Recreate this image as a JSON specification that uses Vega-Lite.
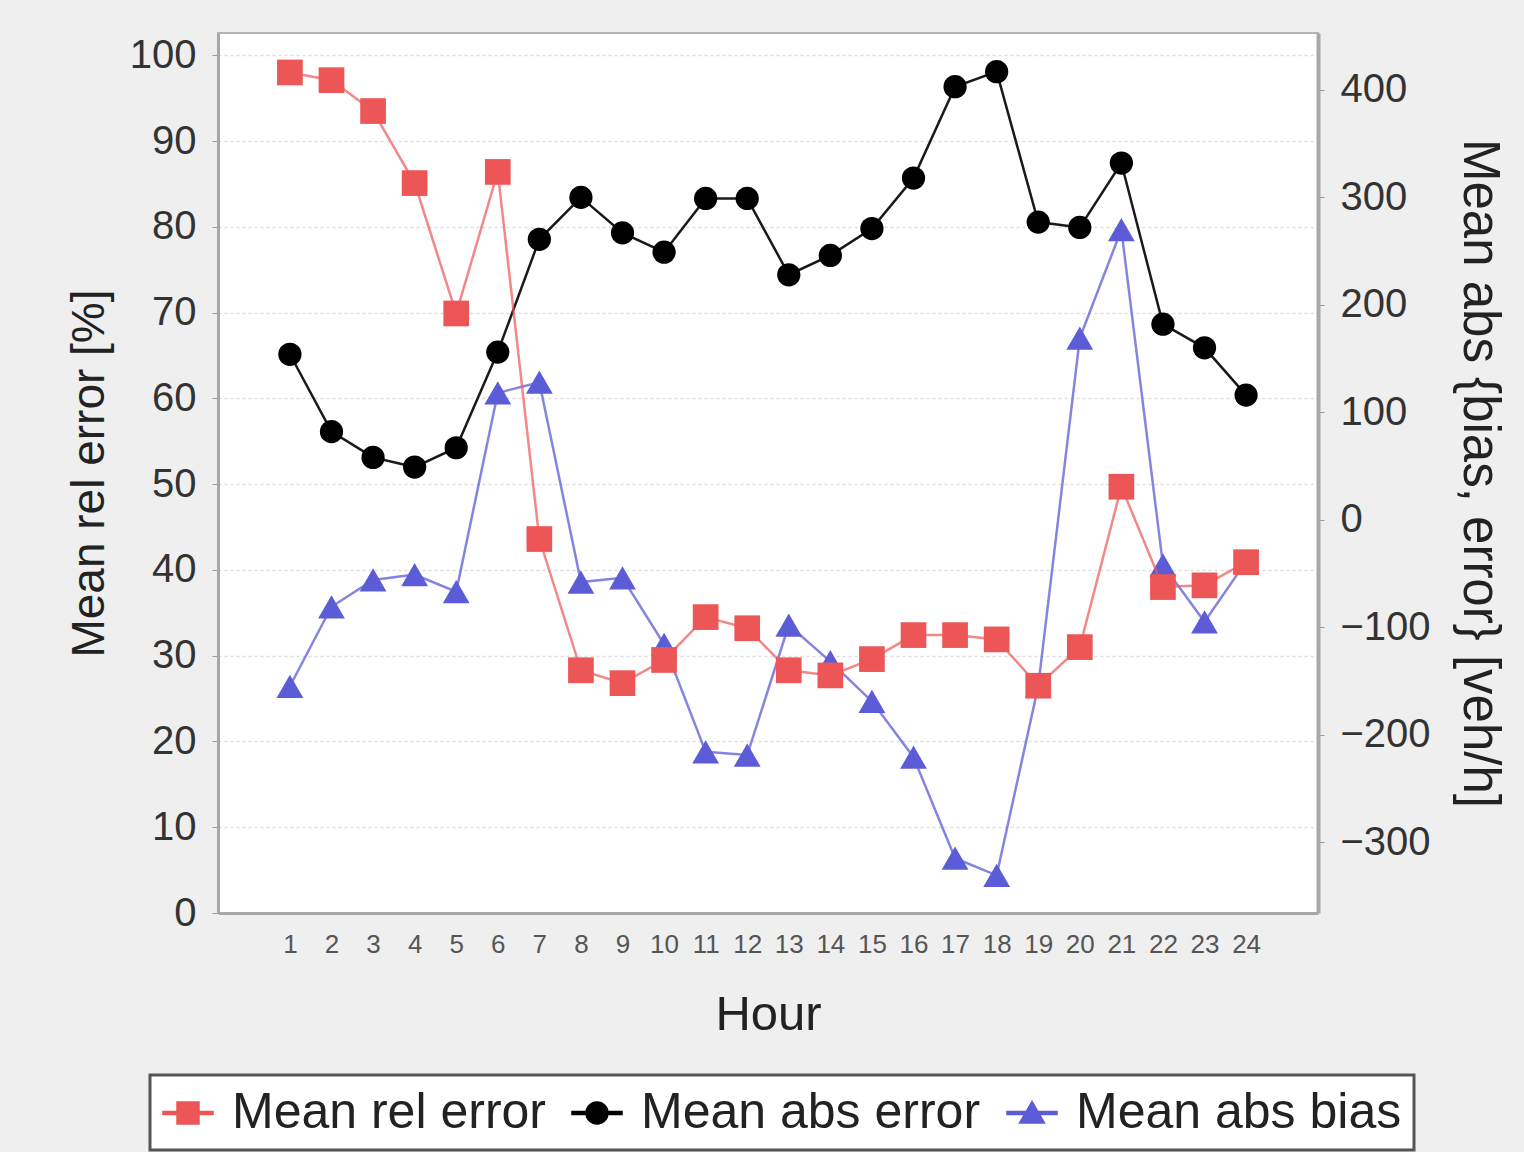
{
  "$schema": "https://vega.github.io/schema/vega-lite/v6.json",
  "width": 1100,
  "height": 880,
  "autosize": {"type": "none"},
  "padding": {"left": 218, "top": 33, "right": 206, "bottom": 239},
  "background": "#efefef",
  "config": {
    "view": {"fill": "white", "stroke": "#b4b4b4", "strokeWidth": 2},
    "axis": {"labelFont": "Liberation Sans", "titleFont": "Liberation Sans", "titleFontWeight": "normal", "titleColor": "#222222", "labelColor": "#333333", "domainColor": "#a8a8a8", "domainWidth": 3, "tickColor": "#999999"},
    "legend": {"strokeWidth": 3}
  },
  "datasets": {
    "rel": [
      {"hour": 1, "series": "Mean rel error", "value": 98.0},
      {"hour": 2, "series": "Mean rel error", "value": 97.1},
      {"hour": 3, "series": "Mean rel error", "value": 93.5},
      {"hour": 4, "series": "Mean rel error", "value": 85.1},
      {"hour": 5, "series": "Mean rel error", "value": 69.9},
      {"hour": 6, "series": "Mean rel error", "value": 86.4},
      {"hour": 7, "series": "Mean rel error", "value": 43.6},
      {"hour": 8, "series": "Mean rel error", "value": 28.3},
      {"hour": 9, "series": "Mean rel error", "value": 26.8},
      {"hour": 10, "series": "Mean rel error", "value": 29.5},
      {"hour": 11, "series": "Mean rel error", "value": 34.5},
      {"hour": 12, "series": "Mean rel error", "value": 33.2},
      {"hour": 13, "series": "Mean rel error", "value": 28.3},
      {"hour": 14, "series": "Mean rel error", "value": 27.7},
      {"hour": 15, "series": "Mean rel error", "value": 29.6},
      {"hour": 16, "series": "Mean rel error", "value": 32.4},
      {"hour": 17, "series": "Mean rel error", "value": 32.4},
      {"hour": 18, "series": "Mean rel error", "value": 31.9},
      {"hour": 19, "series": "Mean rel error", "value": 26.5},
      {"hour": 20, "series": "Mean rel error", "value": 31.0},
      {"hour": 21, "series": "Mean rel error", "value": 49.7},
      {"hour": 22, "series": "Mean rel error", "value": 38.0},
      {"hour": 23, "series": "Mean rel error", "value": 38.2},
      {"hour": 24, "series": "Mean rel error", "value": 40.9}
    ],
    "abs": [
      {"hour": 1, "series": "Mean abs error", "value": 154},
      {"hour": 2, "series": "Mean abs error", "value": 82},
      {"hour": 3, "series": "Mean abs error", "value": 58},
      {"hour": 4, "series": "Mean abs error", "value": 49},
      {"hour": 5, "series": "Mean abs error", "value": 67},
      {"hour": 6, "series": "Mean abs error", "value": 156},
      {"hour": 7, "series": "Mean abs error", "value": 261},
      {"hour": 8, "series": "Mean abs error", "value": 300},
      {"hour": 9, "series": "Mean abs error", "value": 267},
      {"hour": 10, "series": "Mean abs error", "value": 249},
      {"hour": 11, "series": "Mean abs error", "value": 299},
      {"hour": 12, "series": "Mean abs error", "value": 299},
      {"hour": 13, "series": "Mean abs error", "value": 228},
      {"hour": 14, "series": "Mean abs error", "value": 246},
      {"hour": 15, "series": "Mean abs error", "value": 271},
      {"hour": 16, "series": "Mean abs error", "value": 318},
      {"hour": 17, "series": "Mean abs error", "value": 403},
      {"hour": 18, "series": "Mean abs error", "value": 417},
      {"hour": 19, "series": "Mean abs error", "value": 277},
      {"hour": 20, "series": "Mean abs error", "value": 272},
      {"hour": 21, "series": "Mean abs error", "value": 332},
      {"hour": 22, "series": "Mean abs error", "value": 182},
      {"hour": 23, "series": "Mean abs error", "value": 160},
      {"hour": 24, "series": "Mean abs error", "value": 116},
      {"hour": 1, "series": "Mean abs bias", "value": -155},
      {"hour": 2, "series": "Mean abs bias", "value": -81},
      {"hour": 3, "series": "Mean abs bias", "value": -56},
      {"hour": 4, "series": "Mean abs bias", "value": -51},
      {"hour": 5, "series": "Mean abs bias", "value": -67},
      {"hour": 6, "series": "Mean abs bias", "value": 118},
      {"hour": 7, "series": "Mean abs bias", "value": 128},
      {"hour": 8, "series": "Mean abs bias", "value": -58},
      {"hour": 9, "series": "Mean abs bias", "value": -54},
      {"hour": 10, "series": "Mean abs bias", "value": -116},
      {"hour": 11, "series": "Mean abs bias", "value": -216},
      {"hour": 12, "series": "Mean abs bias", "value": -219},
      {"hour": 13, "series": "Mean abs bias", "value": -98},
      {"hour": 14, "series": "Mean abs bias", "value": -132},
      {"hour": 15, "series": "Mean abs bias", "value": -169},
      {"hour": 16, "series": "Mean abs bias", "value": -221},
      {"hour": 17, "series": "Mean abs bias", "value": -315},
      {"hour": 18, "series": "Mean abs bias", "value": -331},
      {"hour": 19, "series": "Mean abs bias", "value": -155},
      {"hour": 20, "series": "Mean abs bias", "value": 169},
      {"hour": 21, "series": "Mean abs bias", "value": 270},
      {"hour": 22, "series": "Mean abs bias", "value": -42},
      {"hour": 23, "series": "Mean abs bias", "value": -95},
      {"hour": 24, "series": "Mean abs bias", "value": -39}
    ]
  },
  "encoding": {
    "x": {
      "field": "hour", "type": "quantitative",
      "scale": {"domain": [-0.73, 25.73], "nice": false, "zero": false},
      "axis": {"values": [1,2,3,4,5,6,7,8,9,10,11,12,13,14,15,16,17,18,19,20,21,22,23,24], "ticks": false, "tickSize": 0, "grid": false, "labelFontSize": 26, "labelPadding": 18, "labelColor": "#555555", "labelFlush": false, "labelOverlap": false, "title": "Hour", "titleFontSize": 49, "titlePadding": 33}
    },
    "color": {
      "field": "series", "type": "nominal",
      "scale": {"domain": ["Mean rel error", "Mean abs error", "Mean abs bias"], "range": ["#ec5656", "#000000", "#5c5cd6"]},
      "legend": {
        "title": null, "orient": "none", "legendX": -68, "legendY": 1042, "direction": "horizontal", "columns": 3,
        "symbolSize": 2500, "symbolOpacity": 1, "labelFont": "Liberation Sans", "labelFontSize": 50, "labelColor": "#222222", "labelLimit": 0,
        "labelOffset": 18, "columnPadding": 23, "padding": 12, "strokeColor": "#555555", "fillColor": "white"
      }
    }
  },
  "layer": [
    {
      "data": {"name": "abs"},
      "encoding": {
        "y": {
          "field": "value", "type": "quantitative",
          "scale": {"domain": [-366, 453], "nice": false, "zero": false},
          "axis": {"orient": "right", "values": [-300,-200,-100,0,100,200,300,400], "grid": false, "tickSize": 6, "labelFontSize": 40, "labelPadding": 16, "title": "Mean abs {bias, error} [veh/h]", "titleFontSize": 51, "titlePadding": 22, "domainWidth": 4}
        }
      },
      "layer": [
        {
          "transform": [{"filter": "datum.series === 'Mean abs error'"}],
          "mark": {"type": "line", "strokeWidth": 2.5, "opacity": 0.9}
        },
        {
          "transform": [{"filter": "datum.series === 'Mean abs bias'"}],
          "mark": {"type": "line", "strokeWidth": 2.5, "opacity": 0.75}
        },
        {
          "transform": [{"filter": "datum.series === 'Mean abs error'"}],
          "mark": {"type": "point", "filled": true, "opacity": 1, "size": 540, "shape": "circle"}
        },
        {
          "transform": [{"filter": "datum.series === 'Mean abs bias'"}],
          "mark": {"type": "point", "filled": true, "opacity": 1, "size": 720, "shape": "triangle-up"}
        }
      ]
    },
    {
      "data": {"name": "rel"},
      "encoding": {
        "y": {
          "field": "value", "type": "quantitative",
          "scale": {"domain": [0, 102.6], "nice": false, "zero": false},
          "axis": {"orient": "left", "values": [0,10,20,30,40,50,60,70,80,90,100], "grid": true, "gridColor": "#dedede", "gridDash": [3, 3], "gridWidth": 1.5, "tickSize": 6, "labelFontSize": 40, "labelPadding": 16, "title": "Mean rel error [%]", "titleFontSize": 46, "titlePadding": 16}
        }
      },
      "layer": [
        {
          "mark": {"type": "line", "strokeWidth": 2.5, "opacity": 0.7}
        },
        {
          "mark": {"type": "point", "filled": true, "opacity": 1, "size": 660, "shape": "square"}
        },
        {
          "transform": [{"filter": "false"}],
          "mark": {"type": "point", "filled": true, "opacity": 1},
          "encoding": {
            "shape": {
              "field": "series", "type": "nominal",
              "scale": {"domain": ["Mean rel error", "Mean abs error", "Mean abs bias"], "range": [
                "M-1,-0.06H1V0.06H-1ZM-0.44,-0.44H0.44V0.44H-0.44Z",
                "M-1,-0.06H1V0.06H-1ZM0.44,0A0.44,0.44,0,1,1,-0.44,0A0.44,0.44,0,1,1,0.44,0Z",
                "M-1,-0.06H1V0.06H-1ZM0,-0.46L0.5,0.4H-0.5Z"
              ]},
              "legend": {
                "title": null, "orient": "none", "legendX": -68, "legendY": 1042, "direction": "horizontal", "columns": 3,
                "symbolSize": 2500, "symbolOpacity": 1, "labelFont": "Liberation Sans", "labelFontSize": 50, "labelColor": "#222222", "labelLimit": 0,
                "labelOffset": 18, "columnPadding": 23, "padding": 12, "strokeColor": "#555555", "fillColor": "white"
              }
            }
          }
        }
      ]
    }
  ],
  "resolve": {"scale": {"y": "independent"}}
}
